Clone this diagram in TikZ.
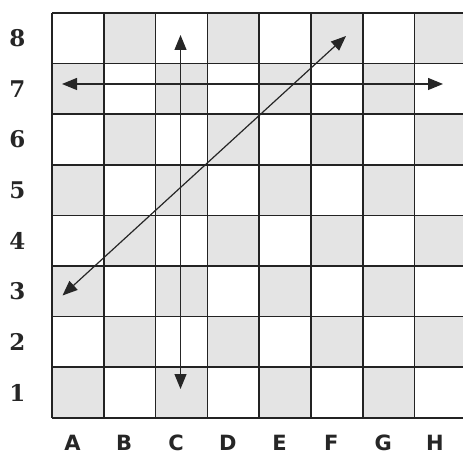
\documentclass[tikz,border=0pt]{standalone}
\usepackage{fontspec}
\usetikzlibrary{arrows.meta}
\newfontfamily\rowfont{DejaVu Serif}
\newfontfamily\colfont{DejaVu Sans}
\definecolor{sqgray}{RGB}{228,228,228}
\definecolor{gridline}{RGB}{35,35,35}
\tikzset{
  rowlabel/.style={font=\rowfont\bfseries\fontsize{23}{23}\selectfont, inner sep=0pt, text=black!85},
  collabel/.style={font=\colfont\bfseries\fontsize{21}{21}\selectfont, inner sep=0pt, anchor=base, text=black!85},
  gridl/.style={draw=gridline, line width=1.6pt},
  move/.style={draw=black!85, line width=1.2pt, {Triangle[length=15pt,width=12pt]}-{Triangle[length=15pt,width=12pt]}}
}
\begin{document}
\begin{tikzpicture}[x=1pt,y=-1pt]
\useasboundingbox (0,0) rectangle (463,454);
\clip (0,0) rectangle (463,454);
% squares
\foreach \i in {0,...,7}{
  \foreach \r in {1,...,8}{
    \pgfmathtruncatemacro\s{mod(\i+1+\r,2)}
    \ifnum\s=0
      \fill[sqgray] ({52+\i*51.8},{13+(8-\r)*50.6}) rectangle ++(51.8,50.6);
    \fi
  }
}
% grid
\foreach \i in {0,...,8}{
  \draw[gridl] ({52+\i*51.8},13) -- ({52+\i*51.8},417.8);
  \draw[gridl] (52,{13+\i*50.6}) -- (466.4,{13+\i*50.6});
}
% labels
\foreach \r in {1,...,8}{
  \node[rowlabel] (r\r) at (17.5,{13+(8.5-\r)*50.6}) {\r};
}
\foreach \l [count=\i from 0] in {A,B,C,D,E,F,G,H}{
  \node[collabel] (c\l) at ({52+(\i+0.5)*51.8-5.5},450) {\l};
}
% arrows
\coordinate (vt) at (180.5,35);
\coordinate (vb) at (180.5,389);
\coordinate (hl) at (62,84);
\coordinate (hr) at (443,84);
\coordinate (dl) at (62.5,295.5);
\coordinate (dr) at (346,36);
\draw[move] (vb) -- (vt);
\draw[move] (hl) -- (hr);
\draw[move] (dl) -- (dr);
\end{tikzpicture}
\end{document}
